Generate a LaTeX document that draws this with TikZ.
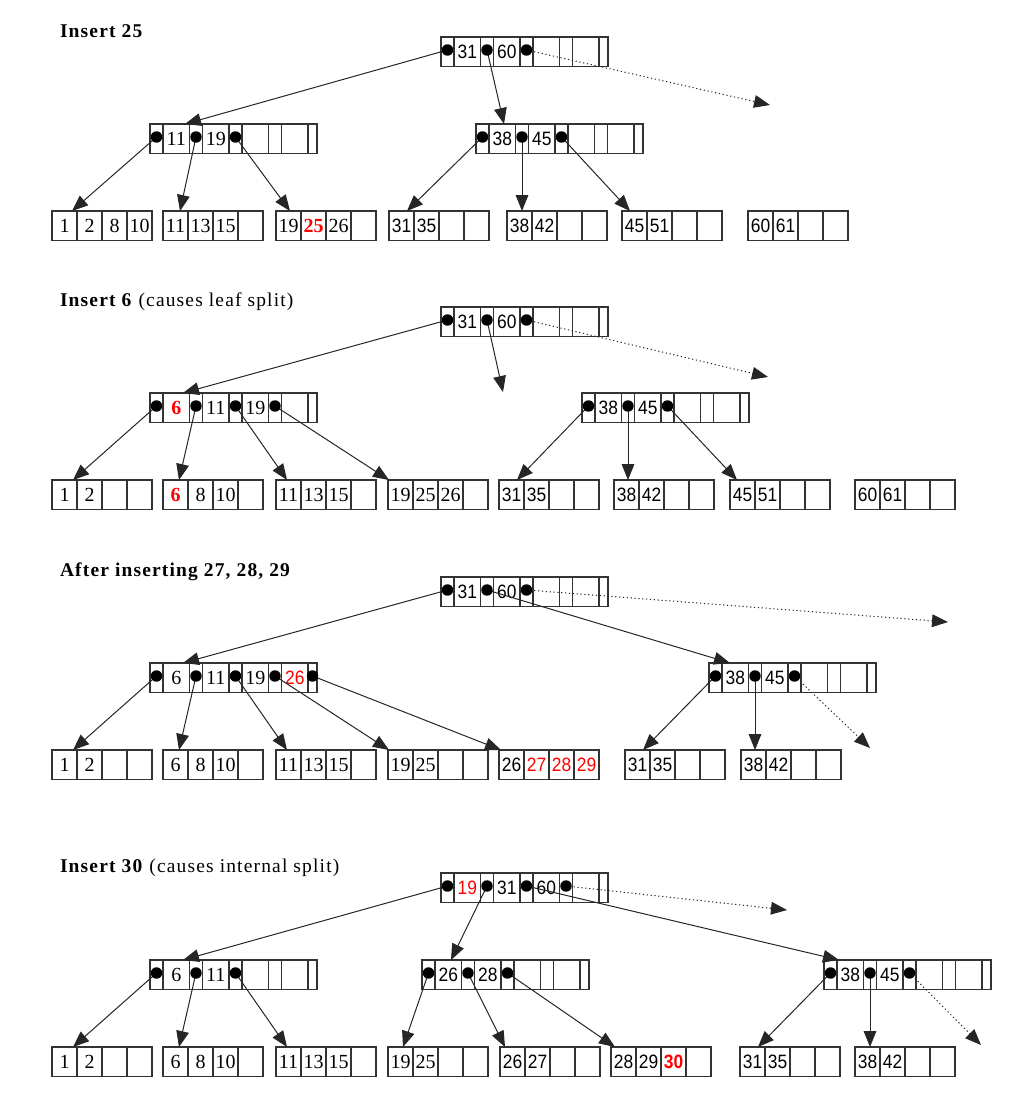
\documentclass[tikz,border=0pt]{standalone}
\usepackage{fontspec}
\setmainfont{Liberation Serif}
\newfontfamily\numsans[FakeStretch=0.9]{Liberation Sans}
\newfontfamily\numserif{Liberation Serif}
\newfontfamily\titlefont[LetterSpace=6]{Liberation Serif}
\usetikzlibrary{arrows.meta,calc}
\newcommand{\sfnum}{\numsans\fontsize{14.5pt}{15pt}\selectfont}
\newcommand{\rmnum}{\numserif\fontsize{15pt}{15pt}\selectfont}
\newcommand{\hl}[1]{\textcolor{red}{\bfseries #1}}
\newcommand{\rd}[1]{\textcolor{red}{#1}}
\tikzset{
  bpbox/.style={draw=black!80, line width=0.9pt, inner sep=0pt, outer sep=0pt,
    minimum height=22.125pt, anchor=north west},
  bpsep/.style={draw=black!80, line width=0.9pt},
  bpkey/.style={inner sep=0pt, outer sep=0pt, anchor=center, text=black},
  bparrow/.style={line width=0.75pt, draw=black!85, -{Triangle[length=12pt,width=9.5pt]}},
  bpdotted/.style={bparrow, dash pattern=on 0.9pt off 2pt},
  bpdot/.style={fill=black},
  bptitle/.style={inner sep=0pt, outer sep=0pt, anchor=base west,
    font=\titlefont\fontsize{14.6pt}{17pt}\selectfont}
}
% internal node: name, x, y, font, k1..k4
\newcommand{\bpint}[8]{%
  \node[bpbox, minimum width=125.25pt] (#1) at (#2,#3) {};
  \foreach \bx in {13,39.5,52.5,79,92,118.5,131.5,158}
    \draw[bpsep] ({#2+\bx},#3) -- ({#2+\bx},{#3+29.5});
  \node[bpkey, font=#4] (#1-k1) at ({#2+26.25},{#3+14.75}) {#5};
  \node[bpkey, font=#4] (#1-k2) at ({#2+65.75},{#3+14.75}) {#6};
  \node[bpkey, font=#4] (#1-k3) at ({#2+105.25},{#3+14.75}) {#7};
  \node[bpkey, font=#4] (#1-k4) at ({#2+144.75},{#3+14.75}) {#8};
  \foreach \i/\px in {0/6.5,1/46,2/85.5,3/125,4/162.5}
    \coordinate (#1-p\i) at ({#2+\px},{#3+13});
}
% leaf node: name, x, y, font, k1..k4
\newcommand{\bpleaf}[8]{%
  \node[bpbox, minimum width=75pt] (#1) at (#2,#3) {};
  \foreach \bx in {25,50,75}
    \draw[bpsep] ({#2+\bx},#3) -- ({#2+\bx},{#3+29.5});
  \node[bpkey, font=#4] (#1-k1) at ({#2+12.5},{#3+14.75}) {#5};
  \node[bpkey, font=#4] (#1-k2) at ({#2+37.5},{#3+14.75}) {#6};
  \node[bpkey, font=#4] (#1-k3) at ({#2+62.5},{#3+14.75}) {#7};
  \node[bpkey, font=#4] (#1-k4) at ({#2+87.5},{#3+14.75}) {#8};
}
\newcommand{\bpdots}[2]{%
  \foreach \i in {0,...,#2} \fill[bpdot] (#1-p\i) circle[radius=4.3pt];
}
\newcommand{\bpto}[3]{\draw[bparrow] (#1) -- ($(#2.north west)+(#3,0)$);}

\begin{document}
\begin{tikzpicture}[x=0.75pt,y=-0.75pt]
\fill[white] (0,0) rectangle (1024,1107);
\useasboundingbox (0,0) rectangle (1024,1107);

% ================= Panel 1 =================
\node[bptitle] (T1) at (60,37) {\textbf{Insert 25}};
\bpint{Ar}{441}{37}{\sfnum}{31}{60}{}{}
\bpint{Aa}{150}{124}{\rmnum}{11}{19}{}{}
\bpint{Ab}{476}{124}{\sfnum}{38}{45}{}{}
\bpleaf{Al1}{52}{211}{\rmnum}{1}{2}{8}{10}
\bpleaf{Al2}{163}{211}{\rmnum}{11}{13}{15}{}
\bpleaf{Al3}{276}{211}{\rmnum}{19}{\hl{25}}{26}{}
\bpleaf{Al4}{389}{211}{\sfnum}{31}{35}{}{}
\bpleaf{Al5}{507}{211}{\sfnum}{38}{42}{}{}
\bpleaf{Al6}{622}{211}{\sfnum}{45}{51}{}{}
\bpleaf{Al7}{748}{211}{\sfnum}{60}{61}{}{}
\coordinate (Aend) at (770,105);
\bpto{Ar-p0}{Aa}{35}
\bpto{Ar-p1}{Ab}{28}
\draw[bpdotted] (Ar-p2) -- (Aend);
\bpto{Aa-p0}{Al1}{20}
\bpto{Aa-p1}{Al2}{17}
\bpto{Aa-p2}{Al3}{14}
\bpto{Ab-p0}{Al4}{18}
\bpto{Ab-p1}{Al5}{15}
\bpto{Ab-p2}{Al6}{8}
\bpdots{Ar}{2}\bpdots{Aa}{2}\bpdots{Ab}{2}

% ================= Panel 2 =================
\node[bptitle] (T2) at (60,306) {\textbf{Insert 6} (causes leaf split)};
\bpint{Br}{441}{307}{\sfnum}{31}{60}{}{}
\bpint{Ba}{150}{393}{\rmnum}{\hl{6}}{11}{19}{}
\bpint{Bb}{582}{393}{\sfnum}{38}{45}{}{}
\bpleaf{Bl1}{52}{480}{\rmnum}{1}{2}{}{}
\bpleaf{Bl2}{163}{480}{\rmnum}{\hl{6}}{8}{10}{}
\bpleaf{Bl3}{276}{480}{\rmnum}{11}{13}{15}{}
\bpleaf{Bl4}{388}{480}{\rmnum}{19}{25}{26}{}
\bpleaf{Bl5}{499}{480}{\sfnum}{31}{35}{}{}
\bpleaf{Bl6}{614}{480}{\sfnum}{38}{42}{}{}
\bpleaf{Bl7}{730}{480}{\sfnum}{45}{51}{}{}
\bpleaf{Bl8}{855}{480}{\sfnum}{60}{61}{}{}
\coordinate (Bhang) at (503,392);
\coordinate (Bend) at (768,377);
\bpto{Br-p0}{Ba}{33}
\draw[bparrow] (Br-p1) -- (Bhang);
\draw[bpdotted] (Br-p2) -- (Bend);
\bpto{Ba-p0}{Bl1}{21}
\bpto{Ba-p1}{Bl2}{16}
\bpto{Ba-p2}{Bl3}{11}
\bpto{Ba-p3}{Bl4}{1}
\bpto{Bb-p0}{Bl5}{18}
\bpto{Bb-p1}{Bl6}{14}
\bpto{Bb-p2}{Bl7}{7}
\bpdots{Br}{2}\bpdots{Ba}{3}\bpdots{Bb}{2}

% ================= Panel 3 =================
\node[bptitle] (T3) at (60,576) {\textbf{After inserting 27, 28, 29}};
\bpint{Cr}{441}{577}{\sfnum}{31}{60}{}{}
\bpint{Ca}{150}{663}{\rmnum}{6}{11}{19}{\rd{\sfnum 26}}
\bpint{Cb}{709}{663}{\sfnum}{38}{45}{}{}
\bpleaf{Cl1}{52}{750}{\rmnum}{1}{2}{}{}
\bpleaf{Cl2}{163}{750}{\rmnum}{6}{8}{10}{}
\bpleaf{Cl3}{276}{750}{\rmnum}{11}{13}{15}{}
\bpleaf{Cl4}{388}{750}{\rmnum}{19}{25}{}{}
\bpleaf{Cl5}{499}{750}{\sfnum}{26}{\rd{27}}{\rd{28}}{\rd{29}}
\bpleaf{Cl6}{625}{750}{\sfnum}{31}{35}{}{}
\bpleaf{Cl7}{741}{750}{\sfnum}{38}{42}{}{}
\coordinate (Cend) at (948,622);
\coordinate (Cend2) at (870,748);
\bpto{Cr-p0}{Ca}{33}
\bpto{Cr-p1}{Cb}{21}
\draw[bpdotted] (Cr-p2) -- (Cend);
\bpto{Ca-p0}{Cl1}{21}
\bpto{Ca-p1}{Cl2}{16}
\bpto{Ca-p2}{Cl3}{11}
\bpto{Ca-p3}{Cl4}{1}
\bpto{Ca-p4}{Cl5}{2}
\bpto{Cb-p0}{Cl6}{18}
\bpto{Cb-p1}{Cl7}{14}
\draw[bpdotted] (Cb-p2) -- (Cend2);
\bpdots{Cr}{2}\bpdots{Ca}{4}\bpdots{Cb}{2}

% ================= Panel 4 =================
\node[bptitle] (T4) at (60,872) {\textbf{Insert 30} (causes internal split)};
\bpint{Dr}{441}{873}{\sfnum}{\rd{19}}{31}{60}{}
\bpint{Da}{150}{960}{\rmnum}{6}{11}{}{}
\bpint{Dm}{422}{960}{\sfnum}{26}{28}{}{}
\bpint{Db}{824}{960}{\sfnum}{38}{45}{}{}
\bpleaf{Dl1}{52}{1047}{\rmnum}{1}{2}{}{}
\bpleaf{Dl2}{163}{1047}{\rmnum}{6}{8}{10}{}
\bpleaf{Dl3}{276}{1047}{\rmnum}{11}{13}{15}{}
\bpleaf{Dl4}{388}{1047}{\rmnum}{19}{25}{}{}
\bpleaf{Dl5}{500}{1047}{\sfnum}{26}{27}{}{}
\bpleaf{Dl6}{611}{1047}{\sfnum}{28}{29}{\hl{30}}{}
\bpleaf{Dl7}{740}{1047}{\sfnum}{31}{35}{}{}
\bpleaf{Dl8}{855}{1047}{\sfnum}{38}{42}{}{}
\coordinate (Dend) at (787,910);
\coordinate (Dend2) at (981,1045);
\bpto{Dr-p0}{Da}{33}
\bpto{Dr-p1}{Dm}{29}
\bpto{Dr-p2}{Db}{15}
\draw[bpdotted] (Dr-p3) -- (Dend);
\bpto{Da-p0}{Dl1}{21}
\bpto{Da-p1}{Dl2}{16}
\bpto{Da-p2}{Dl3}{11}
\bpto{Dm-p0}{Dl4}{15}
\bpto{Dm-p1}{Dl5}{5}
\bpto{Dm-p2}{Dl6}{4}
\bpto{Db-p0}{Dl7}{18}
\bpto{Db-p1}{Dl8}{15}
\draw[bpdotted] (Db-p2) -- (Dend2);
\bpdots{Dr}{3}\bpdots{Da}{2}\bpdots{Dm}{2}\bpdots{Db}{2}
\end{tikzpicture}
\end{document}
